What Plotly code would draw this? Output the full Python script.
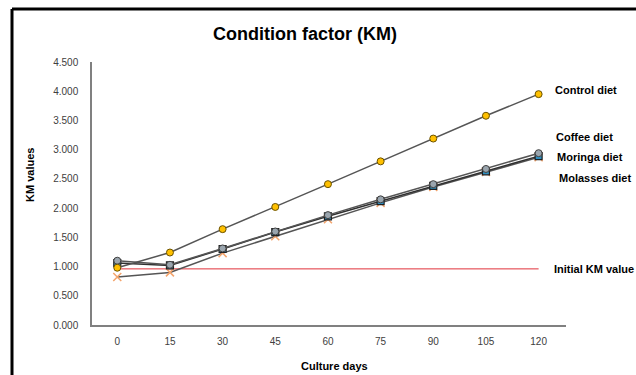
import plotly.graph_objects as go

days = [0, 15, 30, 45, 60, 75, 90, 105, 120]
control = [0.98, 1.24, 1.64, 2.02, 2.41, 2.80, 3.19, 3.58, 3.95]
coffee = [1.10, 1.03, 1.31, 1.60, 1.88, 2.15, 2.41, 2.67, 2.94]
moringa = [1.06, 1.02, 1.30, 1.59, 1.86, 2.12, 2.38, 2.63, 2.89]
molasses = [0.82, 0.90, 1.23, 1.52, 1.81, 2.09, 2.36, 2.62, 2.87]
initial_km = [0.96] * 9
y_ticks = [0, 0.5, 1, 1.5, 2, 2.5, 3, 3.5, 4, 4.5]

BOLDF = "Liberation Sans, Arial, sans-serif"
TICKF = "Liberation Sans, Arial, sans-serif"
LINE = "#555555"

fig = go.Figure()
fig.add_trace(go.Scatter(x=days, y=initial_km, mode="lines",
                         line=dict(color="#E0303A", width=1), name="Initial KM value"))
fig.add_trace(go.Scatter(x=days, y=molasses, mode="lines+markers",
                         line=dict(color=LINE, width=1.5),
                         marker=dict(symbol="x-thin", size=8, line=dict(color="#F4A46C", width=1.5)),
                         name="Molasses diet"))
fig.add_trace(go.Scatter(x=days, y=moringa, mode="lines+markers",
                         line=dict(color="#303030", width=1.5),
                         marker=dict(symbol="square", size=7, color="#2E8FC0",
                                     line=dict(color="#202020", width=1.2)),
                         name="Moringa diet"))
fig.add_trace(go.Scatter(x=days, y=coffee, mode="lines+markers",
                         line=dict(color=LINE, width=1.5),
                         marker=dict(symbol="circle", size=7, color="#9AA5AE",
                                     line=dict(color="#404040", width=1)),
                         name="Coffee diet"))
fig.add_trace(go.Scatter(x=days, y=control, mode="lines+markers",
                         line=dict(color=LINE, width=1.5),
                         marker=dict(symbol="circle", size=7, color="#FFC000",
                                     line=dict(color="#6B5200", width=1)),
                         name="Control diet"))

fig.update_layout(
    width=636, height=375,
    margin=dict(l=92, r=70, t=62, b=50),
    paper_bgcolor="white", plot_bgcolor="white",
    showlegend=False,
    title=dict(text="<b>Condition factor (KM)</b>", x=0.4796, xanchor="center",
               y=1 - 34 / 375, yanchor="middle",
               font=dict(family=BOLDF, size=18, color="#000000")),
)
fig.update_xaxes(range=[-7.2, 127.8], tickvals=days, ticktext=[str(d) for d in days],
                 showgrid=False, zeroline=False, showline=True, linecolor="#808080",
                 linewidth=1.5, ticks="outside", ticklen=6, tickcolor="rgba(0,0,0,0)",
                 tickfont=dict(family=TICKF, size=10, color="#404040"))
fig.update_yaxes(range=[0, 4.5], tickvals=y_ticks, tickformat=".3f",
                 showgrid=False, zeroline=False, showline=True, linecolor="#808080",
                 linewidth=1.5, ticks="outside", ticklen=10, tickcolor="rgba(0,0,0,0)",
                 tickfont=dict(family=TICKF, size=10, color="#404040"))

# series labels
labels = [("Control diet", 124.0, 4.02), ("Coffee diet", 124.4, 3.22),
          ("Moringa diet", 124.6, 2.88), ("Molasses diet", 125.1, 2.51),
          ("Initial KM value", 123.8, 0.96)]
for txt, xv, yv in labels:
    fig.add_annotation(x=xv, y=yv, text="<b>" + txt + "</b>", showarrow=False,
                       xanchor="left", yanchor="middle",
                       font=dict(family=BOLDF, size=11, color="#000000"))

# axis titles
fig.add_annotation(xref="paper", yref="paper", x=(30 - 92) / 474, y=(325 - 175) / 263,
                   text="<b>KM values</b>", showarrow=False, textangle=-90,
                   xanchor="center", yanchor="middle",
                   font=dict(family=BOLDF, size=11, color="#000000"))
fig.add_annotation(xref="paper", yref="paper", x=(334 - 92) / 474, y=(325 - 366) / 263,
                   text="<b>Culture days</b>", showarrow=False,
                   xanchor="center", yanchor="middle",
                   font=dict(family=BOLDF, size=11, color="#000000"))

# outer frame (top and left)
fig.add_shape(type="line", xref="paper", yref="paper",
              x0=(12 - 92) / 474, x1=(640 - 92) / 474, y0=(325 - 9) / 263, y1=(325 - 9) / 263,
              line=dict(color="black", width=3))
fig.add_shape(type="line", xref="paper", yref="paper",
              x0=(12 - 92) / 474, x1=(12 - 92) / 474, y0=(325 - 9) / 263, y1=(325 - 380) / 263,
              line=dict(color="black", width=3))

fig.write_html("out.html")
